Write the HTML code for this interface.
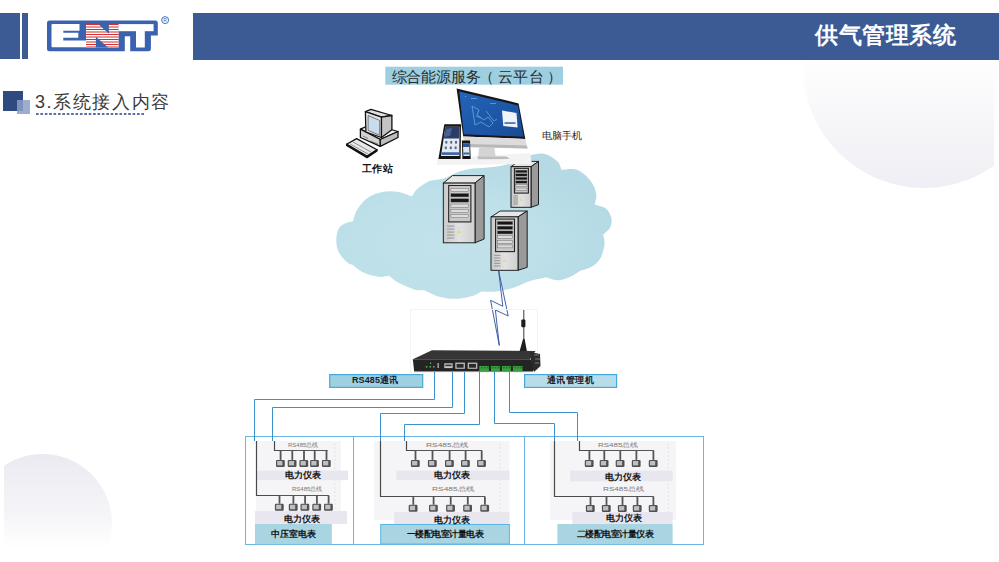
<!DOCTYPE html>
<html><head><meta charset="utf-8">
<style>
html,body{margin:0;padding:0;}
body{width:999px;height:562px;overflow:hidden;background:#fff;position:relative;font-family:"Liberation Sans",sans-serif;}
.a{position:absolute;}
#circ1{left:803px;top:-54px;width:242px;height:242px;border-radius:50%;background:linear-gradient(180deg,#ffffff 45%,#f9f9fb 65%,#eeeef4 100%);}
#clip1{left:0;top:0;width:994px;height:562px;overflow:hidden;}
#clip2{left:4px;top:0;width:995px;height:562px;overflow:hidden;}
#circ2{left:-30.6px;top:454px;width:139px;height:139px;border-radius:50%;background:linear-gradient(180deg,#eaeaf1 0%,#f4f4f8 40%,#ffffff 68%);}
#bar1{left:0;top:13px;width:20px;height:46px;background:#3c5b95;}
#bar2{left:22px;top:13px;width:6px;height:46px;background:#3c5b95;}
#hdr{left:193px;top:13px;width:806px;height:46.5px;background:#3c5b95;}
#ttl{left:815px;top:19px;font-size:23px;font-weight:bold;color:#fff;letter-spacing:0.6px;line-height:32px;white-space:nowrap;}
#sq1{left:3px;top:91px;width:20px;height:20px;background:#2f4a80;}
#sq2{left:17px;top:100px;width:13px;height:14px;background:#8c9fc6;opacity:0.85;}
#sec{left:35px;top:89px;font-size:18px;font-weight:500;color:#3a3a3a;line-height:26px;white-space:nowrap;letter-spacing:1.6px;}
#dots{left:36px;top:113px;width:108px;height:2px;background-image:linear-gradient(90deg,#5870a6 60%,transparent 60%);background-size:4.4px 2px;}
svg{position:absolute;left:0;top:0;}
.t{position:absolute;white-space:nowrap;line-height:1;}
</style></head>
<body>
<div class="a" id="clip1"><div class="a" id="circ1"></div></div>
<div class="a" id="clip2"><div class="a" id="circ2"></div></div>
<div class="a" id="bar1"></div>
<div class="a" id="bar2"></div>
<div class="a" id="hdr"></div>
<div class="a" id="ttl">供气管理系统</div>

<svg width="999" height="562" viewBox="0 0 999 562">
<defs>
<linearGradient id="srvf" x1="0" y1="0" x2="1" y2="0"><stop offset="0" stop-color="#c9c9c9"/><stop offset="0.5" stop-color="#e2e2e2"/><stop offset="1" stop-color="#cfcfcf"/></linearGradient>
<radialGradient id="cloudg" cx="0.4" cy="0.62" r="0.62"><stop offset="0" stop-color="#c3e2eb"/><stop offset="0.55" stop-color="#bde0e9"/><stop offset="1" stop-color="#b5dae5"/></radialGradient>
<linearGradient id="devg" x1="0" y1="0" x2="0" y2="1"><stop offset="0" stop-color="#3a3a3a"/><stop offset="1" stop-color="#1e1e1e"/></linearGradient>
<linearGradient id="scr" x1="0" y1="0" x2="1" y2="1"><stop offset="0" stop-color="#2464b8"/><stop offset="0.6" stop-color="#1c56a6"/><stop offset="1" stop-color="#174a94"/></linearGradient>
</defs>
<path d="M49.5 20.4 H155.3 Q157.8 20.4 157.8 22.9 V35.6 H150.9 V48.7 Q150.9 51.2 148.4 51.2 H49.5 Q47 51.2 47 48.7 V22.9 Q47 20.4 49.5 20.4 Z" fill="#3a62ae"/>
<rect x="124.8" y="36.3" width="5.4" height="16" fill="#fff"/>
<path d="M52.5,24 H79.5 V30.8 H63.3 V32.8 H78.3 V37.7 H63.3 V40.5 H86 V47.3 H52.5 Q51.5,47.3 51.5,46.3 V25 Q51.5,24 52.5,24 Z" fill="#fff"/>
<rect x="86" y="24" width="32.6" height="23.5" fill="#fff"/>
<rect x="86" y="24.00" width="32.6" height="0.95" fill="#d22828"/><rect x="86" y="26.10" width="32.6" height="1.8" fill="#e88a8a"/><rect x="86" y="29.00" width="32.6" height="0.95" fill="#d22828"/><rect x="86" y="31.10" width="32.6" height="1.8" fill="#e88a8a"/><rect x="86" y="34.00" width="32.6" height="0.95" fill="#d22828"/><rect x="86" y="36.10" width="32.6" height="1.8" fill="#e88a8a"/><rect x="86" y="39.00" width="32.6" height="0.95" fill="#d22828"/><rect x="86" y="41.10" width="32.6" height="1.8" fill="#e88a8a"/><rect x="86" y="44.00" width="32.6" height="0.95" fill="#d22828"/><rect x="86" y="46.10" width="32.6" height="1.8" fill="#e88a8a"/>
<polygon points="97.9,23.7 108.9,23.7 108.9,33.7" fill="#3a62ae"/>
<polygon points="95.9,36.8 95.9,47.6 108,47.6" fill="#3a62ae"/>
<rect x="118.6" y="24.1" width="35" height="7.1" fill="#fff"/>
<rect x="136" y="31" width="8.8" height="16.5" fill="#fff"/>
<circle cx="165.1" cy="20.1" r="3.5" fill="none" stroke="#3a62ae" stroke-width="0.9"/>
<text x="165.1" y="22" font-size="5" fill="#3a62ae" text-anchor="middle" font-family="Liberation Sans">R</text>
<rect x="385.3" y="66.7" width="177.7" height="18" fill="#9dcfe1"/>
<path d="M336.3,238.9 C336.4,235.0 337.3,231.0 338.9,228.3 C340.5,225.7 343.6,224.2 346.0,223.0 C348.4,221.8 352.7,221.7 353.1,221.2 C353.5,220.7 354.3,214.4 356.7,210.5 C359.1,206.6 362.9,201.1 367.4,198.0 C371.8,194.9 378.4,192.8 383.4,191.8 C388.4,190.8 392.9,191.1 397.6,191.8 C402.4,192.6 411.1,196.4 411.9,196.3 C412.7,196.2 414.2,191.6 417.2,189.1 C420.1,186.6 425.2,182.9 429.6,181.1 C434.1,179.3 439.2,180.0 443.9,178.5 C448.6,177.0 453.6,173.6 458.0,172.0 C462.4,170.4 466.2,169.7 470.0,169.0 C473.8,168.3 475.7,168.6 480.7,168.1 C485.7,167.6 494.7,167.0 500.0,166.0 C505.3,165.0 507.9,163.6 512.7,161.9 C517.5,160.2 523.4,157.0 528.7,155.7 C534.0,154.4 539.9,152.9 544.7,153.9 C549.5,154.9 554.8,158.9 557.6,161.6 C560.4,164.2 560.9,169.5 561.7,169.8 C562.5,170.1 572.2,168.0 577.0,169.8 C581.8,171.7 587.5,176.9 590.7,180.9 C593.9,184.9 595.6,190.1 596.3,194.0 C597.0,197.9 594.5,203.8 594.9,204.4 C595.3,205.0 603.1,206.2 605.9,208.5 C608.6,210.8 610.7,215.0 611.4,218.2 C612.1,221.4 611.4,225.1 610.0,227.8 C608.6,230.6 603.4,234.0 603.2,234.7 C603.0,235.4 605.0,240.5 604.5,244.4 C604.0,248.3 602.5,254.5 600.4,258.2 C598.3,261.9 595.3,264.4 592.1,266.5 C588.9,268.6 582.0,270.1 581.0,270.6 C580.0,271.1 572.6,275.9 568.7,277.5 C564.8,279.1 561.3,280.3 557.6,280.3 C553.9,280.3 547.8,277.5 546.6,277.5 C545.4,277.5 535.0,279.4 529.7,281.0 C524.4,282.6 520.6,285.6 515.0,287.3 C509.4,289.1 501.7,290.8 496.1,291.5 C490.5,292.2 482.4,291.3 481.4,291.5 C480.4,291.7 477.2,294.5 473.0,295.7 C468.8,296.9 461.7,298.6 456.1,298.8 C450.5,299.0 444.6,298.1 439.3,296.7 C434.1,295.3 425.7,290.7 424.6,290.4 C423.6,290.1 418.7,290.8 414.1,289.4 C409.6,288.0 401.5,284.3 397.3,282.0 C393.1,279.7 389.7,275.9 388.9,275.7 C388.1,275.5 382.6,277.3 378.4,276.8 C374.2,276.3 367.8,274.5 363.6,272.6 C359.4,270.7 353.8,265.6 353.1,265.2 C352.4,264.8 349.2,264.3 346.8,262.0 C344.4,259.7 340.1,255.3 338.4,251.5 C336.6,247.7 336.2,242.8 336.3,238.9 Z" fill="url(#cloudg)"/>
<polygon points="443.3,183.1 475.0,183.1 484.1,175.6 452.40000000000003,175.6" fill="#e6e6e6" stroke="#111" stroke-width="0.9" stroke-linejoin="round"/>
<polygon points="475.0,183.1 484.1,175.6 484.1,239.05 475.0,242.8" fill="#9a9a9a" stroke="#111" stroke-width="0.9" stroke-linejoin="round"/>
<rect x="443.3" y="183.1" width="31.7" height="59.7" fill="url(#srvf)" stroke="#111" stroke-width="0.9"/>
<rect x="448.69" y="185.49" width="22.19" height="36.42" fill="#c8c8c8" stroke="#222" stroke-width="1.1"/>
<rect x="450.91" y="188.40" width="17.75" height="3.24" fill="#dcdcdc" stroke="#555" stroke-width="0.4"/>
<rect x="450.91" y="193.62" width="17.75" height="3.24" fill="#151515" stroke="#555" stroke-width="0.4"/>
<rect x="450.91" y="198.84" width="17.75" height="3.24" fill="#151515" stroke="#555" stroke-width="0.4"/>
<rect x="450.91" y="204.06" width="17.75" height="3.24" fill="#dcdcdc" stroke="#555" stroke-width="0.4"/>
<rect x="450.91" y="209.28" width="17.75" height="3.24" fill="#dcdcdc" stroke="#555" stroke-width="0.4"/>
<rect x="450.91" y="214.50" width="17.75" height="3.24" fill="#dcdcdc" stroke="#555" stroke-width="0.4"/>
<line x1="447.10" y1="226.08" x2="454.39" y2="226.08" stroke="#777" stroke-width="0.7"/>
<line x1="447.10" y1="229.07" x2="454.39" y2="229.07" stroke="#777" stroke-width="0.7"/>
<line x1="447.10" y1="232.05" x2="454.39" y2="232.05" stroke="#777" stroke-width="0.7"/>
<line x1="447.10" y1="235.04" x2="454.39" y2="235.04" stroke="#777" stroke-width="0.7"/>
<line x1="447.10" y1="238.02" x2="454.39" y2="238.02" stroke="#777" stroke-width="0.7"/>
<rect x="457.56" y="227.28" width="3.17" height="2.39" fill="#d8d8f0"/>
<rect x="457.56" y="230.86" width="3.17" height="2.39" fill="#e0e060"/>
<polygon points="511,166.7 531,166.7 538.5,161.39999999999998 518.5,161.39999999999998" fill="#e6e6e6" stroke="#111" stroke-width="0.9" stroke-linejoin="round"/>
<polygon points="531,166.7 538.5,161.39999999999998 538.5,204.64999999999998 531,207.29999999999998" fill="#9a9a9a" stroke="#111" stroke-width="0.9" stroke-linejoin="round"/>
<rect x="511" y="166.7" width="20" height="40.6" fill="url(#srvf)" stroke="#111" stroke-width="0.9"/>
<rect x="514.40" y="168.32" width="14.00" height="24.77" fill="#c8c8c8" stroke="#222" stroke-width="1.1"/>
<rect x="515.80" y="170.31" width="11.20" height="2.20" fill="#151515" stroke="#555" stroke-width="0.4"/>
<rect x="515.80" y="173.86" width="11.20" height="2.20" fill="#151515" stroke="#555" stroke-width="0.4"/>
<rect x="515.80" y="177.40" width="11.20" height="2.20" fill="#151515" stroke="#555" stroke-width="0.4"/>
<rect x="515.80" y="180.95" width="11.20" height="2.20" fill="#151515" stroke="#555" stroke-width="0.4"/>
<rect x="515.80" y="184.50" width="11.20" height="2.20" fill="#dcdcdc" stroke="#555" stroke-width="0.4"/>
<rect x="515.80" y="188.05" width="11.20" height="2.20" fill="#dcdcdc" stroke="#555" stroke-width="0.4"/>
<line x1="513.40" y1="195.93" x2="518.00" y2="195.93" stroke="#777" stroke-width="0.7"/>
<line x1="513.40" y1="197.96" x2="518.00" y2="197.96" stroke="#777" stroke-width="0.7"/>
<line x1="513.40" y1="199.99" x2="518.00" y2="199.99" stroke="#777" stroke-width="0.7"/>
<line x1="513.40" y1="202.02" x2="518.00" y2="202.02" stroke="#777" stroke-width="0.7"/>
<line x1="513.40" y1="204.05" x2="518.00" y2="204.05" stroke="#777" stroke-width="0.7"/>
<rect x="520.00" y="196.74" width="2.00" height="1.62" fill="#d8d8f0"/>
<rect x="520.00" y="199.18" width="2.00" height="1.62" fill="#e0e060"/>
<polygon points="491,216.9 518,216.9 527.2,211.0 500.2,211.0" fill="#e6e6e6" stroke="#111" stroke-width="0.9" stroke-linejoin="round"/>
<polygon points="518,216.9 527.2,211.0 527.2,267.35 518,270.3" fill="#9a9a9a" stroke="#111" stroke-width="0.9" stroke-linejoin="round"/>
<rect x="491" y="216.9" width="27" height="53.4" fill="url(#srvf)" stroke="#111" stroke-width="0.9"/>
<rect x="495.59" y="219.04" width="18.90" height="32.57" fill="#c8c8c8" stroke="#222" stroke-width="1.1"/>
<rect x="497.48" y="221.64" width="15.12" height="2.89" fill="#151515" stroke="#555" stroke-width="0.4"/>
<rect x="497.48" y="226.31" width="15.12" height="2.89" fill="#151515" stroke="#555" stroke-width="0.4"/>
<rect x="497.48" y="230.98" width="15.12" height="2.89" fill="#151515" stroke="#555" stroke-width="0.4"/>
<rect x="497.48" y="235.65" width="15.12" height="2.89" fill="#dcdcdc" stroke="#555" stroke-width="0.4"/>
<rect x="497.48" y="240.32" width="15.12" height="2.89" fill="#dcdcdc" stroke="#555" stroke-width="0.4"/>
<rect x="497.48" y="244.99" width="15.12" height="2.89" fill="#dcdcdc" stroke="#555" stroke-width="0.4"/>
<line x1="494.24" y1="255.35" x2="500.45" y2="255.35" stroke="#777" stroke-width="0.7"/>
<line x1="494.24" y1="258.02" x2="500.45" y2="258.02" stroke="#777" stroke-width="0.7"/>
<line x1="494.24" y1="260.69" x2="500.45" y2="260.69" stroke="#777" stroke-width="0.7"/>
<line x1="494.24" y1="263.36" x2="500.45" y2="263.36" stroke="#777" stroke-width="0.7"/>
<line x1="494.24" y1="266.03" x2="500.45" y2="266.03" stroke="#777" stroke-width="0.7"/>
<rect x="503.15" y="256.42" width="2.70" height="2.14" fill="#d8d8f0"/>
<rect x="503.15" y="259.62" width="2.70" height="2.14" fill="#e0e060"/>
<g stroke="#111" stroke-width="1.3" stroke-linejoin="round">
<polygon points="346.6,144.2 356.6,138.6 377,149.7 367,156.3" fill="#e8e8e8"/>
<polygon points="367,156.3 377,149.7 377,151 367,157.6 346.6,145.5 346.6,144.2" fill="#888"/>
<polygon points="360.4,129.2 372,124 398,131.5 380.3,139.5" fill="#f0f0f0"/>
<polygon points="360.4,129.2 380.3,139.5 380.3,146.4 360.4,137.5" fill="#d4d4d4"/>
<polygon points="380.3,139.5 398,131.5 398,137.5 380.3,146.4" fill="#bdbdbd"/>
<polygon points="365.4,111.6 370.9,109.4 391.9,115.5 381.4,117.1" fill="#e0e0e0"/>
<polygon points="381.4,117.1 391.9,115.5 391.9,129.8 381.4,137.5" fill="#c4c4c4"/>
<polygon points="365.4,111.6 381.4,117.1 381.4,137.5 365.9,132" fill="#e6e6e6"/>
</g>
<polygon points="368.1,115.5 379.7,120.4 379.7,135.3 368.1,130.4" fill="#c9dcec" stroke="#333" stroke-width="0.6"/>
<g stroke="#333" stroke-width="0.5" fill="none"><line x1="363" y1="136" x2="368" y2="138.5"/><line x1="370" y1="141" x2="378" y2="144"/><line x1="350" y1="144" x2="368" y2="154"/><line x1="353" y1="142" x2="371" y2="152"/></g>

<polygon points="437,158.5 530,153 532,164 437,165" fill="#f3f3f3"/>
<polygon points="479,147.7 494.5,147.7 495.5,156.3 478.3,156.3" fill="#d4d4d4"/>
<polygon points="477.5,156.2 506.5,156.6 509.8,158.9 478,159.2" fill="#bdbdbd"/>
<polygon points="456.6,88.6 518.6,103.4 525.3,138.9 463.2,136.6" fill="#161616"/>
<polygon points="459.3,91.4 518,105.4 523.6,136.8 463.8,134.2" fill="url(#scr)"/>
<polygon points="463.2,136.6 525.3,138.9 527.5,148.5 464.7,147" fill="#dcdcdc"/>
<polygon points="464.5,144 527,145.5 527.5,148.5 464.7,147" fill="#b8b8b8"/>
<polygon points="502,110.5 516.5,113 517.6,127.5 503.3,126" fill="#f0f3f8"/>
<rect x="504.5" y="122.3" width="11" height="1.5" fill="#2a5fb0"/>
<g stroke="#7ec0f0" stroke-width="0.8" fill="none" opacity="0.75"><path d="M472,106 l7,4 l-2,5 l7,5 l4,-3 l5,6 l-4,4 l-8,-5 l-6,3 z"/><path d="M486,111 l8,10 l3,-2"/><path d="M476,116 l5,2"/></g>
<g fill="#9ad0f5" opacity="0.6"><rect x="465" y="96" width="1" height="1"/><rect x="471" y="98" width="6" height="0.8"/><rect x="490" y="103" width="6" height="0.8"/></g>
<polygon points="444.3,124.3 461,124.3 460.6,159 438.4,159" fill="#141414"/>
<polygon points="445.4,126.8 459.6,126.8 459.3,156 441,156" fill="#e6eaf0"/>
<polygon points="445.4,126.8 459.6,126.8 459.4,138.5 443.8,138.5" fill="#2b3d66"/>
<polygon points="446,129 452,128 450,136 444.5,137" fill="#5a7ab8" opacity="0.6"/>
<g fill="#4a6a9a"><rect x="445.3" y="141" width="2" height="2.6"/><rect x="450.2" y="141" width="2" height="2.6"/><rect x="455" y="141" width="2" height="2.6"/><rect x="444.8" y="146.5" width="2" height="2.6"/><rect x="449.8" y="146.5" width="2" height="2.6"/><rect x="454.6" y="146.5" width="2" height="2.6"/></g>
<rect x="441.6" y="152.3" width="17.6" height="2.6" fill="#3a64a8"/>
<polygon points="461.9,140.6 470,140.6 470.7,159 462.4,159" fill="#141414"/>
<polygon points="462.9,143.3 469.3,143.3 469.7,156 463.4,156" fill="#dfe6f0"/>
<polygon points="462.9,143.3 469.3,143.3 469.4,147 463,147" fill="#2f5596"/>
<rect x="463.4" y="152.5" width="6.2" height="2" fill="#3a64a8"/>

<polygon points="498.7,271 508.2,316 495.4,310 499.3,345.5 490.6,300.3 502.8,306.3" fill="#fff" stroke="#2d4f9e" stroke-width="0.9" stroke-linejoin="miter"/>
<rect x="410.5" y="309.5" width="127" height="63" fill="none" stroke="#f3f3f3" stroke-width="1"/>
<line x1="523.8" y1="310" x2="523.8" y2="346" stroke="#3a3a3a" stroke-width="1"/>
<rect x="521.3" y="319.6" width="4.1" height="7.7" rx="1" fill="#1e1e1e"/>
<polygon points="519.5,351.5 527,351.5 524.6,339 523,339" fill="#1e1e1e"/>
<polygon points="432,350.3 535.5,351 530,359.2 412.8,359.2" fill="#363636"/>
<polygon points="412.8,359.2 530,359.2 537.6,363.3 532.8,371.5 414.2,371.5" fill="#242424"/>
<polygon points="530,352 540,354 540.5,366 534,372 531,360" fill="#2c2c2c"/>
<g fill="#555"><rect x="534" y="354" width="5" height="2"/><rect x="535" y="358" width="5" height="2"/><rect x="535" y="362" width="4" height="2"/></g>
<rect x="444.3" y="363.3" width="8.3" height="4.8" fill="#c8c8c8"/><rect x="445.3" y="364.6" width="6.3" height="1.6" fill="#333"/>
<rect x="455.3" y="362.6" width="9.6" height="6.2" fill="#bdbdbd"/><rect x="456.6" y="363.9" width="7" height="3.8" fill="#2a2a2a"/>
<rect x="467.7" y="362.6" width="9.6" height="6.2" fill="#bdbdbd"/><rect x="469" y="363.9" width="7" height="3.8" fill="#2a2a2a"/>
<g fill="#3aa040"><rect x="479.3" y="366" width="9.6" height="5.5"/><rect x="491" y="366" width="8.9" height="5.5"/><rect x="501.9" y="366" width="9" height="5.5"/><rect x="512.9" y="366" width="9.6" height="5.5"/></g>
<g fill="#1f6a25"><rect x="481" y="366.8" width="1.4" height="1.6"/><rect x="484" y="366.8" width="1.4" height="1.6"/><rect x="487" y="366.8" width="1.4" height="1.6"/><rect x="492.3" y="366.8" width="1.4" height="1.6"/><rect x="495" y="366.8" width="1.4" height="1.6"/><rect x="497.7" y="366.8" width="1.4" height="1.6"/><rect x="503.2" y="366.8" width="1.4" height="1.6"/><rect x="506" y="366.8" width="1.4" height="1.6"/><rect x="508.8" y="366.8" width="1.4" height="1.6"/><rect x="514.5" y="366.8" width="1.4" height="1.6"/><rect x="517.5" y="366.8" width="1.4" height="1.6"/><rect x="520.3" y="366.8" width="1.4" height="1.6"/></g>
<g fill="#5a5"><rect x="425.8" y="366" width="1.6" height="1.6"/><rect x="429.5" y="366" width="1.6" height="1.6"/><rect x="433" y="366" width="1.6" height="1.6"/><rect x="430" y="362.5" width="1.2" height="1.5"/><rect x="437.5" y="363" width="1.4" height="5" fill="#aaa"/></g>
<rect x="329.7" y="374.6" width="93" height="12.8" fill="#9ed0e2" stroke="#45a9dc" stroke-width="1.2"/>
<rect x="524.6" y="374.6" width="92" height="12.8" fill="#b9dcea" stroke="#45a9dc" stroke-width="1.2"/>
<rect x="245.5" y="436.5" width="458" height="108" fill="none" stroke="#6cb6e6" stroke-width="1"/>
<line x1="353.5" y1="436.5" x2="353.5" y2="544.5" stroke="#6cb6e6" stroke-width="1"/>
<line x1="524.5" y1="436.5" x2="524.5" y2="544.5" stroke="#6cb6e6" stroke-width="1"/>
<rect x="256" y="441" width="85" height="79" fill="#f5f5f7"/><line x1="335" y1="443" x2="335" y2="518" stroke="#d8d8dc" stroke-width="0.6" stroke-dasharray="2,2"/>
<rect x="374" y="441" width="135.5" height="79" fill="#f5f5f7"/><line x1="500" y1="443" x2="500" y2="518" stroke="#d8d8dc" stroke-width="0.6" stroke-dasharray="2,2"/>
<rect x="550" y="441" width="126" height="79" fill="#f5f5f7"/><line x1="668.4" y1="443" x2="668.4" y2="518" stroke="#d8d8dc" stroke-width="0.6" stroke-dasharray="2,2"/>
<rect x="256" y="470.6" width="92" height="9.599999999999966" fill="#e8e6ee"/>
<rect x="255" y="511.1" width="92" height="12.899999999999977" fill="#e8e6ee"/>
<rect x="396.2" y="470.6" width="113.19999999999999" height="9.599999999999966" fill="#e8e6ee"/>
<rect x="394.1" y="512.2" width="115.29999999999995" height="11.799999999999955" fill="#e8e6ee"/>
<rect x="570.2" y="470.6" width="102.39999999999998" height="10.699999999999989" fill="#e8e6ee"/>
<rect x="572.3" y="512" width="100.30000000000007" height="12" fill="#e8e6ee"/>
<rect x="255" y="524" width="76.8" height="20.2" fill="#a9d5e3"/>
<rect x="380.7" y="524.5" width="128.7" height="19.5" fill="#a9d5e3" stroke="#5ab6e4" stroke-width="1"/>
<rect x="557.4" y="524" width="115.2" height="20.2" fill="#a9d5e3"/>
<polyline points="274.5,441 274.5,450.5 327.6,450.5" fill="none" stroke="#4a4a4a" stroke-width="1.2"/>
<polyline points="280.6,450.5 326.5,450.5" fill="none" stroke="#555" stroke-width="1"/>
<line x1="280.6" y1="450.5" x2="280.6" y2="459.9" stroke="#555" stroke-width="1.8"/>
<rect x="276.0" y="459.9" width="8.8" height="7" rx="1.2" fill="#505050"/>
<rect x="277.2" y="461.0" width="5.2" height="4.4" fill="#bcc0c3"/>
<line x1="292.3" y1="450.5" x2="292.3" y2="459.9" stroke="#555" stroke-width="1.8"/>
<rect x="287.7" y="459.9" width="8.8" height="7" rx="1.2" fill="#505050"/>
<rect x="288.9" y="461.0" width="5.2" height="4.4" fill="#bcc0c3"/>
<line x1="304" y1="450.5" x2="304" y2="459.9" stroke="#555" stroke-width="1.8"/>
<rect x="299.4" y="459.9" width="8.8" height="7" rx="1.2" fill="#505050"/>
<rect x="300.6" y="461.0" width="5.2" height="4.4" fill="#bcc0c3"/>
<line x1="314.7" y1="450.5" x2="314.7" y2="459.9" stroke="#555" stroke-width="1.8"/>
<rect x="310.1" y="459.9" width="8.8" height="7" rx="1.2" fill="#505050"/>
<rect x="311.3" y="461.0" width="5.2" height="4.4" fill="#bcc0c3"/>
<line x1="326.5" y1="450.5" x2="326.5" y2="459.9" stroke="#555" stroke-width="1.8"/>
<rect x="321.9" y="459.9" width="8.8" height="7" rx="1.2" fill="#505050"/>
<rect x="323.1" y="461.0" width="5.2" height="4.4" fill="#bcc0c3"/>
<polyline points="256.5,441 256.5,495.5 328.6,495.5" fill="none" stroke="#4a4a4a" stroke-width="1.2"/>
<polyline points="279.5,495.5 328.6,495.5" fill="none" stroke="#555" stroke-width="1"/>
<line x1="279.5" y1="495.5" x2="279.5" y2="503.7" stroke="#555" stroke-width="1.8"/>
<rect x="274.9" y="503.7" width="8.8" height="7" rx="1.2" fill="#505050"/>
<rect x="276.1" y="504.8" width="5.2" height="4.4" fill="#bcc0c3"/>
<line x1="293.4" y1="495.5" x2="293.4" y2="503.7" stroke="#555" stroke-width="1.8"/>
<rect x="288.8" y="503.7" width="8.8" height="7" rx="1.2" fill="#505050"/>
<rect x="290.0" y="504.8" width="5.2" height="4.4" fill="#bcc0c3"/>
<line x1="305.1" y1="495.5" x2="305.1" y2="503.7" stroke="#555" stroke-width="1.8"/>
<rect x="300.5" y="503.7" width="8.8" height="7" rx="1.2" fill="#505050"/>
<rect x="301.7" y="504.8" width="5.2" height="4.4" fill="#bcc0c3"/>
<line x1="316.9" y1="495.5" x2="316.9" y2="503.7" stroke="#555" stroke-width="1.8"/>
<rect x="312.3" y="503.7" width="8.8" height="7" rx="1.2" fill="#505050"/>
<rect x="313.5" y="504.8" width="5.2" height="4.4" fill="#bcc0c3"/>
<line x1="328.6" y1="495.5" x2="328.6" y2="503.7" stroke="#555" stroke-width="1.8"/>
<rect x="324.0" y="503.7" width="8.8" height="7" rx="1.2" fill="#505050"/>
<rect x="325.2" y="504.8" width="5.2" height="4.4" fill="#bcc0c3"/>
<polyline points="406.5,441 406.5,450.5 481.7,450.5" fill="none" stroke="#4a4a4a" stroke-width="1.2"/>
<polyline points="415.5,450.5 481.7,450.5" fill="none" stroke="#555" stroke-width="1"/>
<line x1="415.5" y1="450.5" x2="415.5" y2="459.9" stroke="#555" stroke-width="1.8"/>
<rect x="410.9" y="459.9" width="8.8" height="7" rx="1.2" fill="#505050"/>
<rect x="412.1" y="461.0" width="5.2" height="4.4" fill="#bcc0c3"/>
<line x1="432.5" y1="450.5" x2="432.5" y2="459.9" stroke="#555" stroke-width="1.8"/>
<rect x="427.9" y="459.9" width="8.8" height="7" rx="1.2" fill="#505050"/>
<rect x="429.1" y="461.0" width="5.2" height="4.4" fill="#bcc0c3"/>
<line x1="449.6" y1="450.5" x2="449.6" y2="459.9" stroke="#555" stroke-width="1.8"/>
<rect x="445.0" y="459.9" width="8.8" height="7" rx="1.2" fill="#505050"/>
<rect x="446.2" y="461.0" width="5.2" height="4.4" fill="#bcc0c3"/>
<line x1="465.6" y1="450.5" x2="465.6" y2="459.9" stroke="#555" stroke-width="1.8"/>
<rect x="461.0" y="459.9" width="8.8" height="7" rx="1.2" fill="#505050"/>
<rect x="462.2" y="461.0" width="5.2" height="4.4" fill="#bcc0c3"/>
<line x1="481.7" y1="450.5" x2="481.7" y2="459.9" stroke="#555" stroke-width="1.8"/>
<rect x="477.1" y="459.9" width="8.8" height="7" rx="1.2" fill="#505050"/>
<rect x="478.3" y="461.0" width="5.2" height="4.4" fill="#bcc0c3"/>
<polyline points="380.5,441 380.5,496.5 484.9,496.5" fill="none" stroke="#4a4a4a" stroke-width="1.2"/>
<polyline points="413.3,496.5 484.9,496.5" fill="none" stroke="#555" stroke-width="1"/>
<line x1="413.3" y1="496.5" x2="413.3" y2="504.7" stroke="#555" stroke-width="1.8"/>
<rect x="408.7" y="504.7" width="8.8" height="7" rx="1.2" fill="#505050"/>
<rect x="409.9" y="505.8" width="5.2" height="4.4" fill="#bcc0c3"/>
<line x1="433.6" y1="496.5" x2="433.6" y2="504.7" stroke="#555" stroke-width="1.8"/>
<rect x="429.0" y="504.7" width="8.8" height="7" rx="1.2" fill="#505050"/>
<rect x="430.2" y="505.8" width="5.2" height="4.4" fill="#bcc0c3"/>
<line x1="450.7" y1="496.5" x2="450.7" y2="504.7" stroke="#555" stroke-width="1.8"/>
<rect x="446.1" y="504.7" width="8.8" height="7" rx="1.2" fill="#505050"/>
<rect x="447.3" y="505.8" width="5.2" height="4.4" fill="#bcc0c3"/>
<line x1="467.8" y1="496.5" x2="467.8" y2="504.7" stroke="#555" stroke-width="1.8"/>
<rect x="463.2" y="504.7" width="8.8" height="7" rx="1.2" fill="#505050"/>
<rect x="464.4" y="505.8" width="5.2" height="4.4" fill="#bcc0c3"/>
<line x1="484.9" y1="496.5" x2="484.9" y2="504.7" stroke="#555" stroke-width="1.8"/>
<rect x="480.3" y="504.7" width="8.8" height="7" rx="1.2" fill="#505050"/>
<rect x="481.5" y="505.8" width="5.2" height="4.4" fill="#bcc0c3"/>
<polyline points="579.5,441 579.5,450.5 653.4,450.5" fill="none" stroke="#4a4a4a" stroke-width="1.2"/>
<polyline points="589.4,450.5 653.4,450.5" fill="none" stroke="#555" stroke-width="1"/>
<line x1="589.4" y1="450.5" x2="589.4" y2="459.9" stroke="#555" stroke-width="1.8"/>
<rect x="584.8" y="459.9" width="8.8" height="7" rx="1.2" fill="#505050"/>
<rect x="586.0" y="461.0" width="5.2" height="4.4" fill="#bcc0c3"/>
<line x1="604.3" y1="450.5" x2="604.3" y2="459.9" stroke="#555" stroke-width="1.8"/>
<rect x="599.7" y="459.9" width="8.8" height="7" rx="1.2" fill="#505050"/>
<rect x="600.9" y="461.0" width="5.2" height="4.4" fill="#bcc0c3"/>
<line x1="620.3" y1="450.5" x2="620.3" y2="459.9" stroke="#555" stroke-width="1.8"/>
<rect x="615.7" y="459.9" width="8.8" height="7" rx="1.2" fill="#505050"/>
<rect x="616.9" y="461.0" width="5.2" height="4.4" fill="#bcc0c3"/>
<line x1="636.4" y1="450.5" x2="636.4" y2="459.9" stroke="#555" stroke-width="1.8"/>
<rect x="631.8" y="459.9" width="8.8" height="7" rx="1.2" fill="#505050"/>
<rect x="633.0" y="461.0" width="5.2" height="4.4" fill="#bcc0c3"/>
<line x1="653.4" y1="450.5" x2="653.4" y2="459.9" stroke="#555" stroke-width="1.8"/>
<rect x="648.8" y="459.9" width="8.8" height="7" rx="1.2" fill="#505050"/>
<rect x="650.0" y="461.0" width="5.2" height="4.4" fill="#bcc0c3"/>
<polyline points="554.5,441 554.5,496.5 653.4,496.5" fill="none" stroke="#4a4a4a" stroke-width="1.2"/>
<polyline points="590.5,496.5 653.4,496.5" fill="none" stroke="#555" stroke-width="1"/>
<line x1="590.5" y1="496.5" x2="590.5" y2="505" stroke="#555" stroke-width="1.8"/>
<rect x="585.9" y="505.0" width="8.8" height="7" rx="1.2" fill="#505050"/>
<rect x="587.1" y="506.1" width="5.2" height="4.4" fill="#bcc0c3"/>
<line x1="606.5" y1="496.5" x2="606.5" y2="505" stroke="#555" stroke-width="1.8"/>
<rect x="601.9" y="505.0" width="8.8" height="7" rx="1.2" fill="#505050"/>
<rect x="603.1" y="506.1" width="5.2" height="4.4" fill="#bcc0c3"/>
<line x1="622.5" y1="496.5" x2="622.5" y2="505" stroke="#555" stroke-width="1.8"/>
<rect x="617.9" y="505.0" width="8.8" height="7" rx="1.2" fill="#505050"/>
<rect x="619.1" y="506.1" width="5.2" height="4.4" fill="#bcc0c3"/>
<line x1="637.4" y1="496.5" x2="637.4" y2="505" stroke="#555" stroke-width="1.8"/>
<rect x="632.8" y="505.0" width="8.8" height="7" rx="1.2" fill="#505050"/>
<rect x="634.0" y="506.1" width="5.2" height="4.4" fill="#bcc0c3"/>
<line x1="653.4" y1="496.5" x2="653.4" y2="505" stroke="#555" stroke-width="1.8"/>
<rect x="648.8" y="505.0" width="8.8" height="7" rx="1.2" fill="#505050"/>
<rect x="650.0" y="506.1" width="5.2" height="4.4" fill="#bcc0c3"/>
<polyline points="434.5,372 434.5,399.5 254.5,399.5 254.5,441" fill="none" stroke="#3a93cc" stroke-width="1"/>
<polyline points="452.5,372 452.5,407.5 272.5,407.5 272.5,441" fill="none" stroke="#3a93cc" stroke-width="1"/>
<polyline points="464.5,372 464.5,413.5 380.5,413.5 380.5,441" fill="none" stroke="#3a93cc" stroke-width="1"/>
<polyline points="479.5,372 479.5,424.5 404.5,424.5 404.5,441" fill="none" stroke="#3a93cc" stroke-width="1"/>
<polyline points="494.5,372 494.5,423.5 554.5,423.5 554.5,441" fill="none" stroke="#3a93cc" stroke-width="1"/>
<polyline points="509.5,372 509.5,412.5 577.5,412.5 577.5,441" fill="none" stroke="#3a93cc" stroke-width="1"/>
</svg>
<div class="t" style="left:391.5px;top:68.5px;font-size:15.3px;color:#2a2a2a;font-weight:normal;letter-spacing:-0.2px;">综合能源服务</div>
<div class="t" style="left:478.5px;top:68.5px;font-size:15.3px;color:#2a2a2a;font-weight:normal;letter-spacing:0px;">（</div>
<div class="t" style="left:497.6px;top:68.5px;font-size:15.3px;color:#2a2a2a;font-weight:normal;letter-spacing:0.7px;">云平台</div>
<div class="t" style="left:547px;top:68.5px;font-size:15.3px;color:#2a2a2a;font-weight:normal;letter-spacing:0px;">）</div>
<div class="t" style="left:361.5px;top:163.5px;font-size:10px;color:#111;font-weight:bold;letter-spacing:0.5px;">工作站</div>
<div class="t" style="left:541.5px;top:131px;font-size:10px;color:#222;font-weight:normal;letter-spacing:0px;">电脑手机</div>
<div class="t" style="left:352px;top:375.5px;font-size:9px;color:#1a1a2a;font-weight:bold;letter-spacing:0.1px;">RS485通讯</div>
<div class="t" style="left:547px;top:376px;font-size:9px;color:#1a1a2a;font-weight:bold;letter-spacing:0.4px;">通讯管理机</div>
<div class="t" style="left:288px;top:442px;font-size:6px;color:#777;font-weight:normal;letter-spacing:0px;transform:scaleX(1);transform-origin:0 0;">RS485总线</div>
<div class="t" style="left:292px;top:485.5px;font-size:6px;color:#777;font-weight:normal;letter-spacing:0px;transform:scaleX(1);transform-origin:0 0;">RS485总线</div>
<div class="t" style="left:426px;top:442px;font-size:6px;color:#777;font-weight:normal;letter-spacing:0px;transform:scaleX(1.4);transform-origin:0 0;">RS485总线</div>
<div class="t" style="left:431.5px;top:485.5px;font-size:6px;color:#777;font-weight:normal;letter-spacing:0px;transform:scaleX(1.4);transform-origin:0 0;">RS485总线</div>
<div class="t" style="left:598px;top:442px;font-size:6px;color:#777;font-weight:normal;letter-spacing:0px;transform:scaleX(1.33);transform-origin:0 0;">RS485总线</div>
<div class="t" style="left:603.3px;top:485.5px;font-size:6px;color:#777;font-weight:normal;letter-spacing:0px;transform:scaleX(1.36);transform-origin:0 0;">RS485总线</div>
<div class="t" style="left:272.5px;width:60px;text-align:center;top:471px;font-size:8.6px;font-weight:bold;color:#111;">电力仪表</div>
<div class="t" style="left:271.5px;width:60px;text-align:center;top:514.5px;font-size:8.6px;font-weight:bold;color:#111;">电力仪表</div>
<div class="t" style="left:422px;width:60px;text-align:center;top:471px;font-size:8.6px;font-weight:bold;color:#111;">电力仪表</div>
<div class="t" style="left:421.5px;width:60px;text-align:center;top:515.5px;font-size:8.6px;font-weight:bold;color:#111;">电力仪表</div>
<div class="t" style="left:592.5px;width:60px;text-align:center;top:473px;font-size:8.6px;font-weight:bold;color:#111;">电力仪表</div>
<div class="t" style="left:593.5px;width:60px;text-align:center;top:513.5px;font-size:8.6px;font-weight:bold;color:#111;">电力仪表</div>
<div class="t" style="left:255px;width:76.8px;text-align:center;top:530px;font-size:8.8px;font-weight:bold;color:#111;">中压室电表</div>
<div class="t" style="left:380.7px;width:128.7px;text-align:center;top:530px;font-size:8.6px;font-weight:bold;color:#111;letter-spacing:-0.55px">一楼配电室计量电表</div>
<div class="t" style="left:557.4px;width:115.2px;text-align:center;top:530px;font-size:8.6px;font-weight:bold;color:#111;letter-spacing:-0.55px">二楼配电室计量仪表</div>
<div class="a" id="sq1"></div>
<div class="a" id="sq2"></div>
<div class="a" id="sec">3.系统接入内容</div>
<div class="a" id="dots"></div>
</body></html>
